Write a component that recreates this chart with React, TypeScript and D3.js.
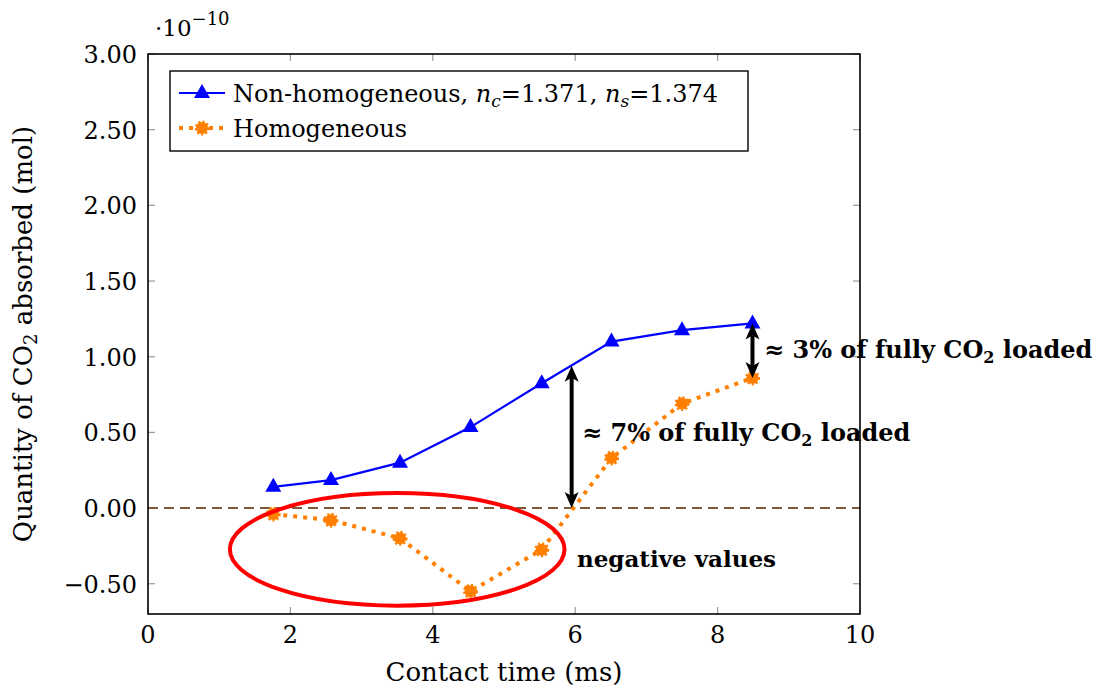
import * as React from 'react';
import * as d3 from 'd3';

// contact time (ms) and absorbed CO2 (units of 1e-10 mol)
const contactTime = [1.76, 2.57, 3.54, 4.53, 5.53, 6.51, 7.5, 8.49];
const nonHomogeneous = [0.14, 0.185, 0.3, 0.535, 0.825, 1.1, 1.175, 1.22];
const homogeneous = [-0.04, -0.08, -0.2, -0.55, -0.275, 0.33, 0.69, 0.86];

const xTicks = [0, 2, 4, 6, 8, 10];
const yTicks = [-0.5, 0, 0.5, 1, 1.5, 2, 2.5, 3];

// annotation anchors (data coords)
const gapLarge = { x: 5.95, from: 0.94, to: 0 };
const gapSmall = { x: 8.49, from: 1.22, to: 0.86 };
const negEllipse = { cx: 3.5, cy: -0.273, rx: 2.35, ry: 0.372 };

const W = 1106;
const H = 688;
const margin = { left: 148, right: 246, top: 54, bottom: 74 };
const serif = "'DejaVu Serif', 'Liberation Serif', serif";

const App = () => {
  const x = d3.scaleLinear().domain([0, 10]).range([margin.left, W - margin.right]);
  const y = d3.scaleLinear().domain([-0.7, 3.0]).range([H - margin.bottom, margin.top]);
  const [x0, x1] = x.range();
  const [y0, y1] = [y(3.0), y(-0.7)];

  const lineGen = d3.line<number>()
    .x((_, i) => x(contactTime[i]))
    .y((d) => y(d));

  const tri = (cx: number, cy: number) => `M${cx},${cy - 9} L${cx + 8},${cy + 5} L${cx - 8},${cy + 5} Z`;
  const fmt = (v: number) => (v < 0 ? '\u2212' : '') + d3.format('.2f')(Math.abs(v));

  const arrow = (a: { x: number, from: number, to: number }) => {
    const ax = x(a.x);
    const top = y(a.from);
    const bot = y(a.to);
    const hl = 14;
    const hw = 7;
    return (
      <g>
        <line x1={ax} x2={ax} y1={top + hl - 2} y2={bot - hl + 2} stroke="#000" strokeWidth={4} />
        <path d={`M${ax},${top} L${ax + hw},${top + hl + 2} L${ax},${top + hl - 2} L${ax - hw},${top + hl + 2} Z`} fill="#000" />
        <path d={`M${ax},${bot} L${ax + hw},${bot - hl - 2} L${ax},${bot - hl + 2} L${ax - hw},${bot - hl - 2} Z`} fill="#000" />
      </g>
    );
  };

  return (
    <svg width={W} height={H} style={{ position: 'absolute', left: 0, top: 0 }} fontFamily={serif}>
      <rect width={W} height={H} fill="#fff" />

      {/* ticks, inside the frame */}
      {xTicks.map((t) => (
        <g key={`xt${t}`}>
          <line x1={x(t)} x2={x(t)} y1={y1} y2={y1 - 7} stroke="#999" strokeWidth={1.2} />
          <line x1={x(t)} x2={x(t)} y1={y0} y2={y0 + 7} stroke="#999" strokeWidth={1.2} />
          <text x={x(t)} y={643} textAnchor="middle" fontSize={24}>{t}</text>
        </g>
      ))}
      {yTicks.map((t) => (
        <g key={`yt${t}`}>
          <line x1={x0} x2={x0 + 7} y1={y(t)} y2={y(t)} stroke="#999" strokeWidth={1.2} />
          <line x1={x1} x2={x1 - 7} y1={y(t)} y2={y(t)} stroke="#999" strokeWidth={1.2} />
          <text x={137} y={y(t) + 9} textAnchor="end" fontSize={24}>{fmt(t)}</text>
        </g>
      ))}

      {/* zero reference */}
      <line x1={x0} x2={x1} y1={y(0)} y2={y(0)} stroke="#7b5a3a" strokeWidth={2} strokeDasharray="10 6" />

      {/* non-homogeneous */}
      <path d={lineGen(nonHomogeneous) || ''} fill="none" stroke="#0000ff" strokeWidth={2.2} />
      {nonHomogeneous.map((v, i) => (
        <path key={`nh${i}`} d={tri(x(contactTime[i]), y(v))} fill="#0000ff" />
      ))}

      {/* homogeneous */}
      <path d={lineGen(homogeneous) || ''} fill="none" stroke="#ff8000" strokeWidth={4} strokeDasharray="4 6" />
      {homogeneous.map((v, i) => (
        <circle key={`h${i}`} cx={x(contactTime[i])} cy={y(v)} r={6} fill="#ff8000"
          stroke="#ff8000" strokeWidth={3} strokeDasharray="2 2" />
      ))}

      {/* annotations */}
      <ellipse cx={x(negEllipse.cx)} cy={y(negEllipse.cy)}
        rx={x(negEllipse.cx + negEllipse.rx) - x(negEllipse.cx)}
        ry={y(negEllipse.cy - negEllipse.ry) - y(negEllipse.cy)}
        fill="none" stroke="#ff0000" strokeWidth={4} />
      {arrow(gapLarge)}
      {arrow(gapSmall)}
      <text x={582} y={441} fontSize={24} fontWeight="bold">
        ≈ 7% of fully CO<tspan fontSize={16} dy={5}>2</tspan><tspan dy={-5}> loaded</tspan>
      </text>
      <text x={764} y={358} fontSize={24} fontWeight="bold">
        ≈ 3% of fully CO<tspan fontSize={16} dy={5}>2</tspan><tspan dy={-5}> loaded</tspan>
      </text>
      <text x={577} y={567} fontSize={23} fontWeight="bold">negative values</text>

      {/* frame */}
      <rect x={x0} y={y0} width={x1 - x0} height={y1 - y0} fill="none" stroke="#000" strokeWidth={1.6} />

      {/* legend */}
      <g>
        <rect x={170} y={71} width={578} height={80} fill="#fff" stroke="#000" strokeWidth={1.4} />
        <line x1={179} x2={225} y1={93} y2={93} stroke="#0000ff" strokeWidth={2.2} />
        <path d={tri(202, 93)} fill="#0000ff" />
        <text x={233} y={102} fontSize={24}>
          Non-homogeneous, <tspan fontStyle="italic">n</tspan><tspan fontStyle="italic" fontSize={17} dy={5}>c</tspan><tspan dy={-5}>=1.371, </tspan>
          <tspan fontStyle="italic">n</tspan><tspan fontStyle="italic" fontSize={17} dy={5}>s</tspan><tspan dy={-5}>=1.374</tspan>
        </text>
        <line x1={179} x2={225} y1={128} y2={128} stroke="#ff8000" strokeWidth={4} strokeDasharray="4 6" />
        <circle cx={202} cy={128} r={6} fill="#ff8000" stroke="#ff8000" strokeWidth={3} strokeDasharray="2 2" />
        <text x={233} y={137} fontSize={24}>Homogeneous</text>
      </g>

      {/* exponent label */}
      <text x={155} y={36} fontSize={23}>
        ·10<tspan fontSize={18} dy={-11}>−10</tspan>
      </text>

      {/* axis titles */}
      <text x={(x0 + x1) / 2} y={681} textAnchor="middle" fontSize={26}>Contact time (ms)</text>
      <text transform={`translate(32,${(y0 + y1) / 2}) rotate(-90)`} textAnchor="middle" fontSize={26}>
        Quantity of CO<tspan fontSize={18} dy={5}>2</tspan><tspan dy={-5}> absorbed (mol)</tspan>
      </text>
    </svg>
  );
};

export default App;
